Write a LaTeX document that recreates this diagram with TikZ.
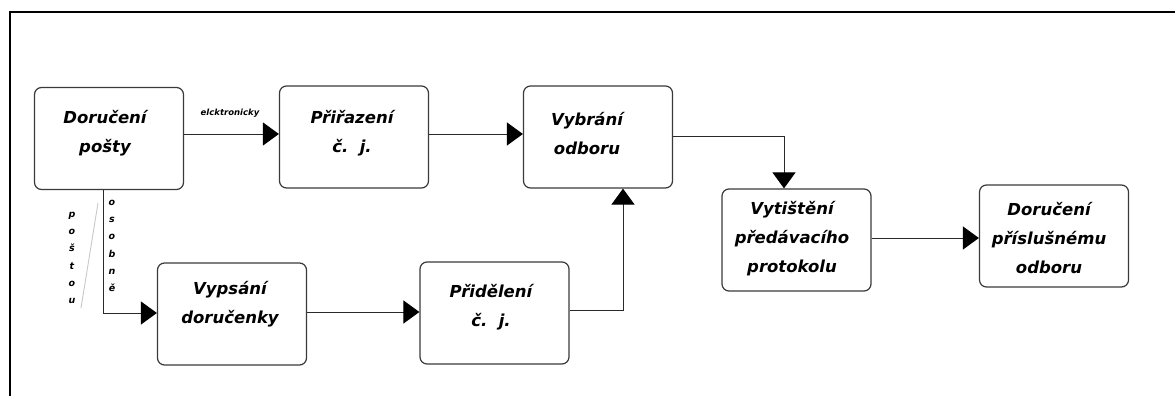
\documentclass[tikz,border=0pt]{standalone}
\usepackage{fontspec}
\setmainfont{DejaVu Sans}
\usetikzlibrary{arrows.meta}
\definecolor{boxgray}{HTML}{3A3A3A}
\definecolor{linegray}{HTML}{2A2A2A}
\definecolor{slashgray}{HTML}{C8C8C8}
\begin{document}
\begin{tikzpicture}[x=1pt,y=-1pt,
  stepbox/.style={draw=boxgray, line width=1.2pt, rounded corners=7pt, fill=white,
    minimum width=149pt, minimum height=102pt, inner sep=0pt},
  caption/.style={font=\fontsize{16.5}{29}\selectfont\bfseries\itshape, align=center, inner sep=0pt},
  smalllabel/.style={font=\fontsize{8.5}{10}\selectfont\bfseries\itshape, inner sep=0pt},
  letters/.style={font=\fontsize{9.5}{17.2}\selectfont\bfseries\itshape, align=center, inner sep=0pt},
  flow/.style={draw=linegray, line width=1pt, -{Triangle[length=16pt,width=23pt,color=black]}}
]
\useasboundingbox (0,0) rectangle (1175,396);

% outer frame (open to the right and bottom)
\draw[line width=2.6pt] (10,400) -- (10,12) -- (1180,12);

% process boxes
\node[stepbox] (b1) at (109,138.5) {};
\node[stepbox] (b2) at (354,137) {};
\node[stepbox] (b3) at (598,137) {};
\node[stepbox] (b4) at (232,314) {};
\node[stepbox] (b5) at (494.5,313) {};
\node[stepbox] (b6) at (796.5,240) {};
\node[stepbox] (b7) at (1054,236) {};

% box captions
\node[caption] (t1) at (105,133) {Doručení\\pošty};
\node[caption] (t2) at (352,133) {Přiřazení\\č.~~j.};
\node[caption] (t3) at (587,134) {Vybrání\\odboru};
\node[caption] (t4) at (230,304) {Vypsání\\doručenky};
\node[caption] (t5) at (491,307) {Přidělení\\č.~~j.};
\node[caption] (t6) at (792,239) {Vytištění\\předávacího\\protokolu};
\node[caption] (t7) at (1049,238) {Doručení\\příslušnému\\odboru};

% bend points of the connectors
\coordinate (c1) at (103,313);
\coordinate (c2) at (623,310);
\coordinate (c3) at (784,136);

% connectors
\draw[flow] (b1.east |- 0,134) -- (b2.west |- 0,134);
\draw[flow] (b2.east |- 0,134) -- (b3.west |- 0,134);
\draw[flow] (b1.south -| c1) -- (c1) -- (b4.west |- c1);
\draw[flow] (b4.east |- 0,312) -- (b5.west |- 0,312);
\draw[flow] (b5.east |- c2) -- (c2) -- (b3.south -| c2);
\draw[flow] (b3.east |- c3) -- (c3) -- (b6.north -| c3);
\draw[flow] (b6.east |- 0,238) -- (b7.west |- 0,238);

% connector labels
\node[smalllabel] (lElek) at (230,113) {elcktronicky};
\node[letters] (lOsobne) at (112,246) {o\\s\\o\\b\\n\\ě};
\node[letters] (lPostou) at (72,258) {p\\o\\š\\t\\o\\u};
\draw[slashgray, line width=0.9pt] (98,203) -- (81,308);
\end{tikzpicture}
\end{document}
